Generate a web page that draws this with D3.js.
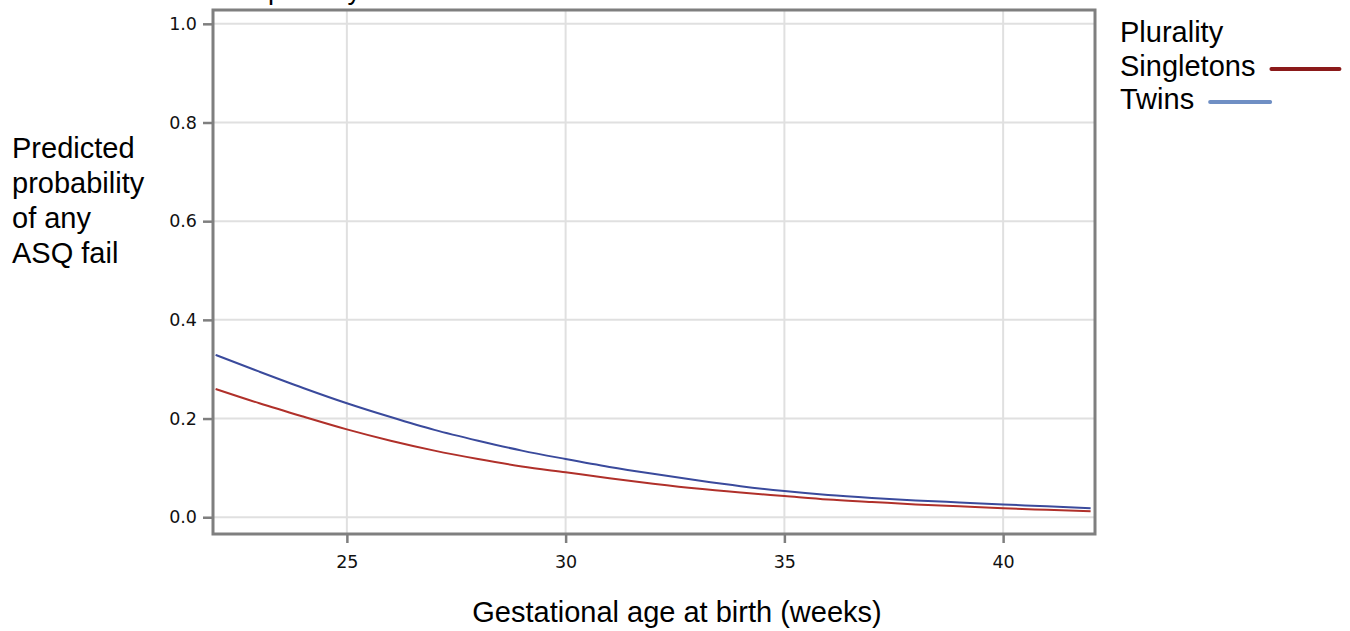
<!DOCTYPE html>
<html>
<head>
<meta charset="utf-8">
<script src="https://cdn.jsdelivr.net/npm/d3@7"></script>
<style>
  body { margin: 0; background: #fff; }
  svg { display: block; }
  .tick text { font-family: "DejaVu Sans", Verdana, sans-serif; font-size: 17.5px; fill: #111; }
</style>
</head>
<body>
<svg id="chart" width="1350" height="631"></svg>
<script>
// gestational age (weeks) and predicted probabilities
var weeks = [22, 23, 24, 25, 26, 27, 28, 29, 30, 31, 32, 33, 34, 35, 36, 37, 38, 39, 40, 41, 42];
var twins = [0.329, 0.295, 0.262, 0.231, 0.203, 0.177, 0.155, 0.135, 0.118, 0.102, 0.088, 0.075, 0.063, 0.053, 0.045, 0.039, 0.034, 0.030, 0.026, 0.022, 0.018];
var singletons = [0.260, 0.231, 0.204, 0.178, 0.155, 0.135, 0.118, 0.103, 0.091, 0.079, 0.068, 0.058, 0.050, 0.043, 0.036, 0.031, 0.026, 0.022, 0.018, 0.015, 0.012];
var xTicks = [25, 30, 35, 40];
var yTicks = [0.0, 0.2, 0.4, 0.6, 0.8, 1.0];
var legendLabels = ["Singletons", "Twins"];

var frameColor = "#7f7f7f";
var gridColor = "#e0e0e0";
var titleFont = "Liberation Sans, Arial, sans-serif";

var margin = {left: 213, top: 10, right: 255, bottom: 97};
var width = 1350 - margin.left - margin.right;
var height = 631 - margin.top - margin.bottom;

var svg = d3.select("#chart");

var xScale = d3.scaleLinear().domain([21.94, 42.1]).range([0, width]);
var yScale = d3.scaleLinear().domain([-0.034, 1.028]).range([height, 0]);

var g = svg.append("g")
  .attr("transform", "translate(" + margin.left + "," + margin.top + ")");

// title, mostly above the top of the picture (as in the original)
svg.append("text")
  .attr("x", 268)
  .attr("y", -1)
  .attr("font-family", titleFont)
  .attr("font-size", 27)
  .text("plurality");

// grid
g.selectAll(".gx")
  .data(xTicks)
  .enter()
  .append("line")
  .attr("x1", function(d) { return xScale(d); })
  .attr("x2", function(d) { return xScale(d); })
  .attr("y1", 0)
  .attr("y2", height)
  .attr("stroke", gridColor)
  .attr("stroke-width", 2);

g.selectAll(".gy")
  .data(yTicks)
  .enter()
  .append("line")
  .attr("x1", 0)
  .attr("x2", width)
  .attr("y1", function(d) { return yScale(d); })
  .attr("y2", function(d) { return yScale(d); })
  .attr("stroke", gridColor)
  .attr("stroke-width", 2);

// axes
var xAxis = g.append("g")
  .attr("transform", "translate(0," + height + ")")
  .call(d3.axisBottom(xScale).tickValues(xTicks).tickSize(9).tickPadding(13).tickFormat(d3.format("d")));

var yAxis = g.append("g")
  .call(d3.axisLeft(yScale).tickValues(yTicks).tickSize(10).tickPadding(6).tickFormat(d3.format(".1f")));

[xAxis, yAxis].forEach(function(a) {
  a.select(".domain").remove();
  a.selectAll(".tick line").attr("stroke", frameColor).attr("stroke-width", 2.5);
});

// curves
var line = d3.line()
  .x(function(d) { return xScale(d[0]); })
  .y(function(d) { return yScale(d[1]); })
  .curve(d3.curveMonotoneX);

g.append("path")
  .datum(d3.zip(weeks, twins))
  .attr("d", line)
  .attr("fill", "none")
  .attr("stroke", "#3a4a9c")
  .attr("stroke-width", 2);

g.append("path")
  .datum(d3.zip(weeks, singletons))
  .attr("d", line)
  .attr("fill", "none")
  .attr("stroke", "#b0302a")
  .attr("stroke-width", 2);

// frame
g.append("rect")
  .attr("width", width)
  .attr("height", height)
  .attr("fill", "none")
  .attr("stroke", frameColor)
  .attr("stroke-width", 3);

// y title
var yTitle = svg.append("text")
  .attr("font-family", titleFont)
  .attr("font-size", 29)
  .attr("fill", "#000");
["Predicted", "probability", "of any", "ASQ fail"].forEach(function(t, i) {
  yTitle.append("tspan").attr("x", 12).attr("y", 158 + i * 35).text(t);
});

// x title
svg.append("text")
  .attr("x", 677)
  .attr("y", 622)
  .attr("text-anchor", "middle")
  .attr("font-family", titleFont)
  .attr("font-size", 29)
  .text("Gestational age at birth (weeks)");

// legend
var legend = svg.append("g").attr("font-family", titleFont).attr("font-size", 29);
legend.append("text").attr("x", 1120).attr("y", 42).text("Plurality");

var legendColors = ["#8b1a1a", "#6f8fc4"];
var legendLen = [68, 60];
legendLabels.forEach(function(lab, i) {
  var y = 76 + i * 33;
  var t = legend.append("text").attr("x", 1120).attr("y", y).text(lab);
  var w = t.node().getComputedTextLength();
  legend.append("line")
    .attr("x1", 1120 + w + 16)
    .attr("x2", 1120 + w + 16 + legendLen[i])
    .attr("y1", y - 7)
    .attr("y2", y - 7)
    .attr("stroke", legendColors[i])
    .attr("stroke-width", 4)
    .attr("stroke-linecap", "round");
});
</script>
</body>
</html>
